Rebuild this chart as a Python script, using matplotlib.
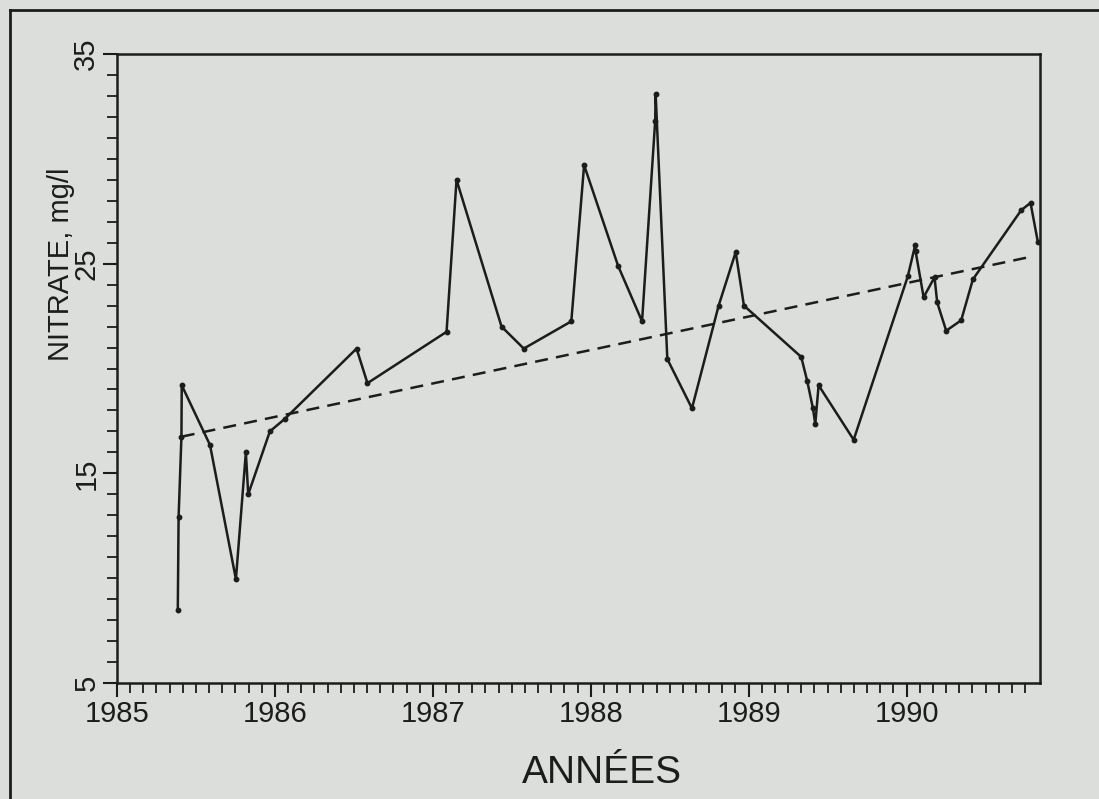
"""Nitrate at the spring, 1985-1990"""

import numpy as np
import matplotlib
matplotlib.use('Agg')
import matplotlib.pyplot as plt
from matplotlib.lines import Line2D
from matplotlib.ticker import FixedLocator, MultipleLocator

# measured samples (decimal year, mg/l)
annees = [1985.385, 1985.390, 1985.408, 1985.410, 1985.589, 1985.753,
          1985.816, 1985.831, 1985.968, 1986.063, 1986.517, 1986.586,
          1987.087, 1987.150, 1987.435, 1987.576, 1987.877, 1987.958,
          1988.173, 1988.325, 1988.408, 1988.411, 1988.485, 1988.641,
          1988.810, 1988.918, 1988.970, 1989.333, 1989.371, 1989.407,
          1989.422, 1989.443, 1989.665, 1990.008, 1990.055, 1990.057,
          1990.108, 1990.177, 1990.194, 1990.251, 1990.346, 1990.420,
          1990.726, 1990.785, 1990.831]
nitrate = [8.5, 12.9, 16.75, 19.2, 16.35, 9.95,
           16.0, 14.0, 17.0, 17.6, 20.95, 19.3,
           21.75, 29.0, 22.0, 20.95, 22.25, 29.7,
           24.9, 22.25, 31.8, 33.1, 20.45, 18.1,
           23.0, 25.55, 23.0, 20.55, 19.4, 18.1,
           17.35, 19.2, 16.6, 24.4, 25.9, 25.6,
           23.4, 24.35, 23.15, 21.8, 22.3, 24.25,
           27.55, 27.9, 26.05]

# trend line end points
tendance_x = [1985.41, 1990.80]
tendance_y = [16.75, 25.35]

year_labels = ['1985', '1986', '1987', '1988', '1989', '1990']
y_labels = ['5', '15', '25', '35']

bg = '#dcdedb'
ink = '#1c1c1c'
plt.rcParams['font.family'] = ['Liberation Sans', 'DejaVu Sans']

fig = plt.figure(figsize=(10.99, 7.99), dpi=100, facecolor=bg)
ax = fig.add_axes([117/1099, 1 - 683/799, 923/1099, 629/799])
ax.set_facecolor(bg)

ax.plot(annees, nitrate, '-o', color=ink, lw=1.8, ms=3.2, mfc=ink, mec=ink)
ax.plot(tendance_x, tendance_y, '--', color=ink, lw=1.8, dashes=(5.2, 3.3))

ax.set_xlim(1985, 1990.845)
ax.set_ylim(5, 35)

years = [int(y) for y in year_labels]
ax.xaxis.set_major_locator(FixedLocator(years))
ax.xaxis.set_minor_locator(FixedLocator(1985 + np.arange(0, 70) / 12.0))
ax.set_xticklabels(year_labels)
ax.yaxis.set_major_locator(FixedLocator([int(v) for v in y_labels]))
ax.yaxis.set_minor_locator(MultipleLocator(1))
ax.set_yticklabels(y_labels, rotation=90, va='center')

ax.tick_params(which='major', direction='out', length=10, width=1.5,
               colors=ink, labelsize=21, pad=2)
ax.tick_params(which='minor', direction='out', length=7, width=1.3,
               colors=ink)
for sp in ax.spines.values():
    sp.set_linewidth(1.8)
    sp.set_color(ink)

ax.set_xlabel('ANNÉES', fontsize=28, color=ink)
ax.xaxis.set_label_coords(0.525, -0.115)
ax.set_ylabel('NITRATE, mg/l', fontsize=21, color=ink)
ax.yaxis.set_label_coords(-0.0455, 0.665)

# frame around the figure panel
fig.add_artist(Line2D([10/1099, 10/1099], [0, 1 - 10/799],
                      transform=fig.transFigure, color=ink, lw=2))
fig.add_artist(Line2D([10/1099, 1], [1 - 10/799, 1 - 10/799],
                      transform=fig.transFigure, color=ink, lw=2))

fig.savefig('out.png', dpi=100, facecolor=bg)
